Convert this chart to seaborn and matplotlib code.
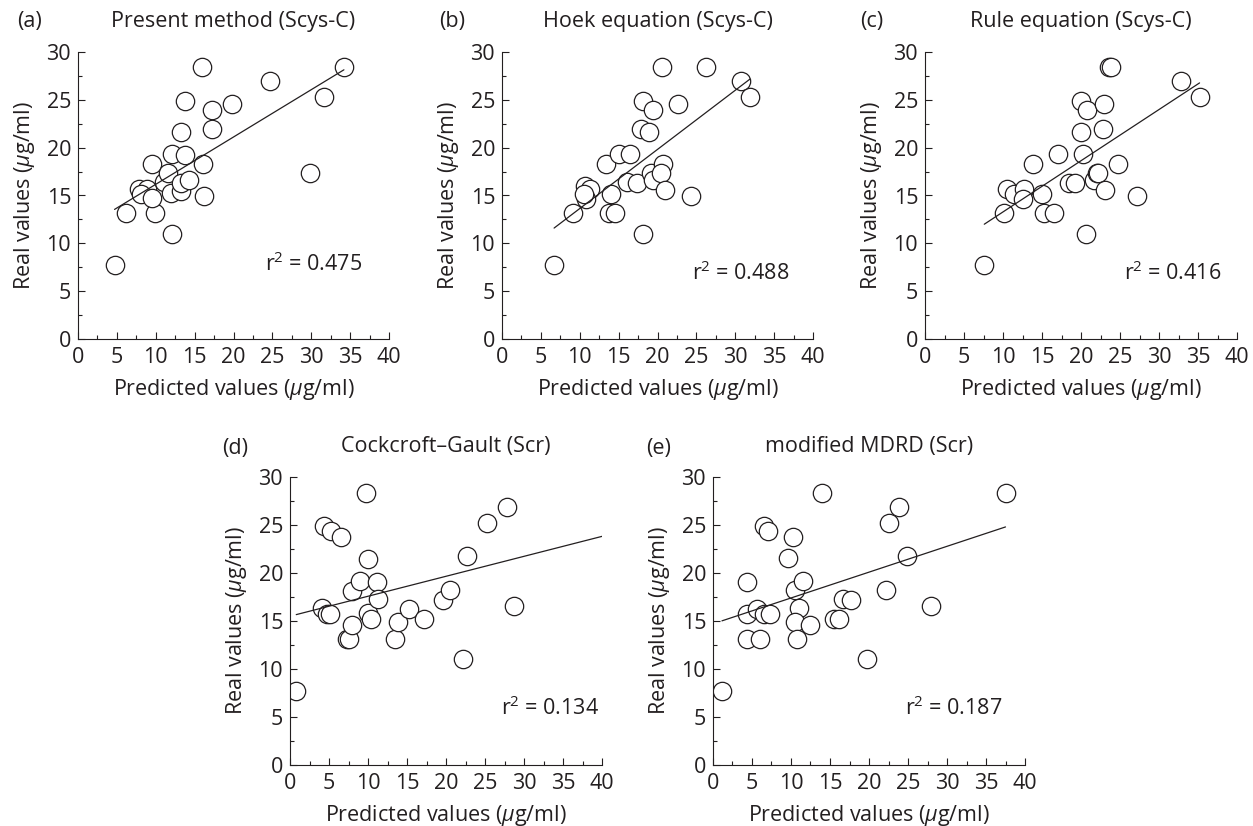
import matplotlib.pyplot as plt
import seaborn as sns
from matplotlib.ticker import MultipleLocator

# Values (predicted vs real, ug/ml)
present_pred = [4.7, 6.2, 9.9, 12.1, 7.9, 8.9, 8.1, 9.5, 9.5, 11.1, 11.6, 12.0, 13.2, 13.3, 14.3,
                12.1, 13.7, 13.2, 13.8, 15.9, 16.1, 16.2, 17.2, 17.2, 19.8, 24.7, 29.9, 31.6, 34.2]
present_real = [7.7, 13.2, 13.2, 11.0, 15.7, 15.7, 15.2, 14.7, 18.3, 16.4, 17.3, 15.3, 15.5, 16.3, 16.6,
                19.3, 19.2, 21.6, 24.9, 28.4, 18.3, 14.9, 23.9, 21.9, 24.6, 27.0, 17.3, 25.3, 28.4]

hoek_pred = [6.7, 9.1, 10.7, 11.3, 10.8, 10.6, 13.4, 13.7, 14.5, 14.0, 15.1, 16.4, 16.1, 17.4, 18.1,
             18.1, 17.9, 18.9, 19.4, 19.1, 19.4, 20.7, 20.4, 21.0, 20.6, 22.6, 24.3, 26.2, 30.7, 31.9]
hoek_real = [7.7, 13.2, 16.0, 15.7, 14.6, 15.2, 18.3, 13.2, 13.2, 15.2, 19.3, 19.3, 16.4, 16.3, 11.0,
             24.9, 21.9, 21.6, 23.9, 17.4, 16.6, 18.3, 17.3, 15.6, 28.4, 24.6, 14.9, 28.4, 27.0, 25.3]

rule_pred = [7.6, 10.1, 10.5, 11.4, 12.7, 12.6, 13.8, 15.0, 15.2, 16.6, 17.0, 18.4, 19.2, 20.0, 20.0,
             20.2, 20.8, 20.6, 21.7, 22.0, 22.2, 22.9, 22.8, 23.1, 23.6, 23.8, 24.7, 27.2, 32.8, 35.2]
rule_real = [7.7, 13.2, 15.7, 15.2, 15.7, 14.6, 18.3, 15.2, 13.2, 13.2, 19.3, 16.3, 16.3, 24.9, 21.6,
             19.3, 23.9, 11.0, 16.6, 17.3, 17.4, 24.6, 21.9, 15.6, 28.4, 28.4, 18.3, 14.9, 27.0, 25.3]

# last Cockcroft-Gault point lies beyond the 40 ug/ml axis edge (only its fit line shows)
cg_pred = [0.8, 4.3, 5.3, 6.6, 4.15, 4.7, 5.1, 7.3, 7.6, 8.0, 8.0, 9.0, 9.8, 10.05, 10.05,
           10.4, 11.1, 11.3, 13.5, 13.9, 15.2, 17.2, 19.6, 20.45, 22.2, 22.7, 25.2, 27.8, 28.7, 42.0]
cg_real = [7.7, 24.9, 24.4, 23.75, 16.35, 15.7, 15.7, 13.1, 13.1, 18.1, 14.6, 19.2, 28.3, 21.5, 15.8,
           15.2, 19.1, 17.3, 13.1, 14.9, 16.3, 15.2, 17.15, 18.2, 11.0, 21.8, 25.2, 26.9, 16.6, 28.4]

mdrd_pred = [1.15, 4.3, 4.35, 4.4, 5.6, 6.0, 6.5, 7.3, 6.6, 7.1, 9.6, 10.3, 10.55, 11.0, 10.55,
             10.8, 11.5, 12.5, 14.0, 15.5, 16.2, 16.7, 17.7, 19.8, 22.2, 22.5, 23.9, 24.9, 27.9, 37.5]
mdrd_real = [7.7, 19.1, 15.7, 13.1, 16.3, 13.1, 15.7, 15.7, 24.9, 24.4, 21.6, 23.75, 18.2, 16.35, 14.9,
             13.1, 19.2, 14.6, 28.3, 15.2, 15.2, 17.3, 17.15, 11.0, 18.2, 25.2, 26.9, 21.8, 16.6, 28.3]

panel_letters = ['(a)', '(b)', '(c)', '(d)', '(e)']
panel_titles = ['Present method (Scys-C)', 'Hoek equation (Scys-C)', 'Rule equation (Scys-C)',
                'Cockcroft\u2013Gault (Scr)', 'modified MDRD (Scr)']
r_squared = [0.475, 0.488, 0.416, 0.134, 0.187]

panels = [
    (present_pred, present_real),
    (hoek_pred, hoek_real),
    (rule_pred, rule_real),
    (cg_pred, cg_real),
    (mdrd_pred, mdrd_real),
]

# layout in pixels of the 1253x826 canvas: axes box (left, top, right, bottom)
W, H = 1253, 826
axes_px = [(78, 52, 389, 339), (502, 52, 813, 339), (925, 52, 1237, 339),
           (290, 477, 602, 765), (713, 477, 1025, 765)]
letter_px = [(17, 27), (439, 27), (860, 27), (222, 454), (646, 454)]
r2_pos = [(24.0, 7.8), (24.5, 6.9), (25.5, 6.9), (27.0, 5.9), (24.6, 5.9)]

INK = '#231f20'
FS = 15.5

sns.set_theme(style='ticks')
plt.rcParams['font.family'] = ['Open Sans', 'DejaVu Sans']
plt.rcParams.update({
    'font.size': FS,
    'text.color': INK,
    'axes.labelcolor': INK,
    'axes.edgecolor': INK,
    'xtick.color': INK,
    'ytick.color': INK,
    'mathtext.fontset': 'custom',
    'mathtext.rm': 'Open Sans',
    'mathtext.it': 'Open Sans:italic',
})

fig = plt.figure(figsize=(W / 100, H / 100), dpi=100)

for i, (x, y) in enumerate(panels):
    l, t, r, b = axes_px[i]
    ax = fig.add_axes([l / W, 1 - b / H, (r - l) / W, (b - t) / H])
    sns.regplot(
        x=x, y=y, ax=ax, ci=None,
        scatter_kws={'s': 175, 'color': 'white', 'edgecolor': INK,
                     'linewidths': 0.9, 'alpha': 1, 'zorder': 2},
        line_kws={'color': INK, 'lw': 0.9, 'zorder': 3},
    )
    ax.set(xlim=(0, 40), ylim=(0, 30))
    ax.xaxis.set_major_locator(MultipleLocator(5))
    ax.yaxis.set_major_locator(MultipleLocator(5))
    ax.xaxis.set_minor_locator(MultipleLocator(2.5))
    ax.yaxis.set_minor_locator(MultipleLocator(2.5))
    ax.tick_params(which='both', direction='in', width=0.8, labelsize=FS)
    ax.tick_params(which='major', length=5)
    ax.tick_params(which='minor', length=3)
    ax.tick_params(axis='x', pad=6)
    ax.tick_params(axis='y', pad=5)
    for side in ['left', 'bottom']:
        ax.spines[side].set_linewidth(0.8)
    sns.despine(ax=ax)

    ax.set_xlabel(r'Predicted values ($\mu$g/ml)', fontsize=FS, labelpad=6)
    ax.set_ylabel(r'Real values ($\mu$g/ml)', fontsize=FS, labelpad=7)
    ax.set_title(panel_titles[i], fontsize=FS, pad=18, color=INK)

    tx, ty = r2_pos[i]
    ax.text(tx, ty, f'r$^{{2}}$ = {r_squared[i]:.3f}', fontsize=FS, va='center', ha='left')

    lx, ly = letter_px[i]
    fig.text(lx / W, 1 - ly / H, panel_letters[i], fontsize=FS, va='baseline', ha='left')

fig.savefig('out.png', dpi=100)
